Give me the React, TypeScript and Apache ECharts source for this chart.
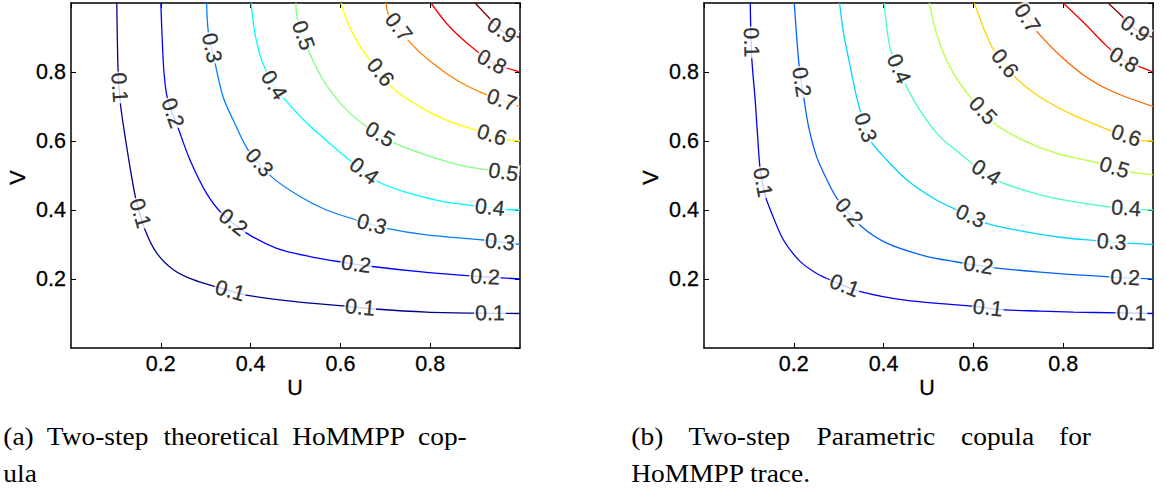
import React, { useEffect, useRef } from 'react';
import * as echarts from 'echarts';

// ---------- data ----------
const levels = ['0.1', '0.2', '0.3', '0.4', '0.5', '0.6', '0.7', '0.8', '0.9'];

// (a) theoretical copula contours, [U, V]
const a01 = [[0.102, 1], [0.105, 0.8], [0.11, 0.708], [0.122, 0.6], [0.135, 0.497], [0.145, 0.429], [0.165, 0.342], [0.191, 0.275], [0.228, 0.227], [0.272, 0.198], [0.324, 0.177], [0.384, 0.155], [0.495, 0.135], [0.614, 0.121], [0.677, 0.113], [0.792, 0.104], [0.904, 0.101], [1, 0.1]];
const a02 = [[0.2, 1], [0.203, 0.9], [0.207, 0.8], [0.215, 0.722], [0.239, 0.636], [0.265, 0.545], [0.302, 0.448], [0.336, 0.39], [0.391, 0.333], [0.458, 0.289], [0.532, 0.265], [0.603, 0.249], [0.666, 0.237], [0.792, 0.219], [0.889, 0.209], [1, 0.2]];
const a03 = [[0.302, 1], [0.306, 0.915], [0.321, 0.824], [0.339, 0.727], [0.365, 0.65], [0.395, 0.573], [0.447, 0.496], [0.51, 0.439], [0.569, 0.4], [0.636, 0.371], [0.703, 0.347], [0.792, 0.328], [0.918, 0.313], [1, 0.3]];
const a04 = [[0.401, 1], [0.41, 0.91], [0.425, 0.833], [0.45, 0.765], [0.48, 0.715], [0.525, 0.652], [0.57, 0.6], [0.62, 0.545], [0.684, 0.482], [0.755, 0.448], [0.829, 0.424], [0.9, 0.412], [0.967, 0.402], [1, 0.4]];
const a05 = [[0.501, 1], [0.504, 0.954], [0.529, 0.862], [0.562, 0.776], [0.607, 0.699], [0.659, 0.641], [0.722, 0.593], [0.792, 0.559], [0.866, 0.53], [0.929, 0.516], [1, 0.502]];
const a06 = [[0.601, 1], [0.621, 0.93], [0.655, 0.853], [0.718, 0.752], [0.777, 0.699], [0.837, 0.66], [0.903, 0.631], [0.97, 0.604], [1, 0.6]];
const a07 = [[0.702, 1], [0.707, 0.968], [0.755, 0.886], [0.807, 0.824], [0.866, 0.771], [0.929, 0.732], [1, 0.7]];
const a08 = [[0.802, 1], [0.837, 0.94], [0.881, 0.885], [0.937, 0.829], [1, 0.8]];
const a09 = [[0.9, 1], [0.929, 0.96], [0.959, 0.92], [1, 0.9]];

// (b) parametric copula contours, [U, V]
const b01 = [[0.103, 1], [0.106, 0.848], [0.114, 0.718], [0.121, 0.583], [0.125, 0.52], [0.136, 0.443], [0.151, 0.39], [0.177, 0.313], [0.214, 0.251], [0.251, 0.216], [0.285, 0.195], [0.344, 0.165], [0.452, 0.138], [0.6, 0.121], [0.663, 0.111], [0.749, 0.107], [0.823, 0.104], [0.923, 0.102], [1, 0.1]];
const b02 = [[0.201, 1], [0.207, 0.891], [0.213, 0.804], [0.222, 0.727], [0.233, 0.641], [0.251, 0.554], [0.274, 0.487], [0.296, 0.434], [0.351, 0.352], [0.407, 0.304], [0.489, 0.268], [0.56, 0.25], [0.645, 0.233], [0.749, 0.22], [0.904, 0.206], [1, 0.2]];
const b03 = [[0.302, 1], [0.311, 0.911], [0.326, 0.814], [0.34, 0.727], [0.356, 0.65], [0.37, 0.602], [0.407, 0.545], [0.452, 0.487], [0.511, 0.434], [0.563, 0.4], [0.626, 0.363], [0.711, 0.338], [0.793, 0.321], [0.875, 0.311], [0.941, 0.304], [1, 0.3]];
const b04 = [[0.401, 1], [0.407, 0.93], [0.416, 0.862], [0.448, 0.766], [0.481, 0.689], [0.526, 0.612], [0.57, 0.564], [0.597, 0.535], [0.659, 0.482], [0.749, 0.444], [0.823, 0.424], [0.908, 0.408], [0.971, 0.402], [1, 0.4]];
const b05 = [[0.502, 1], [0.518, 0.911], [0.548, 0.814], [0.593, 0.727], [0.648, 0.65], [0.711, 0.602], [0.786, 0.564], [0.882, 0.535], [0.945, 0.511], [1, 0.502]];
const b06 = [[0.602, 1], [0.622, 0.93], [0.644, 0.867], [0.696, 0.781], [0.749, 0.727], [0.823, 0.675], [0.904, 0.631], [0.971, 0.602], [1, 0.6]];
const b07 = [[0.702, 1], [0.72, 0.955], [0.745, 0.912], [0.793, 0.848], [0.852, 0.785], [0.912, 0.742], [1, 0.7]];
const b08 = [[0.8, 1], [0.845, 0.944], [0.897, 0.875], [0.935, 0.835], [0.971, 0.815], [1, 0.8]];
const b09 = [[0.9, 1], [0.926, 0.968], [0.96, 0.925], [1, 0.9]];

// contour label anchors, per level
const aLab01 = [[0.107, 0.755], [0.152, 0.39], [0.354, 0.165], [0.644, 0.117], [0.933, 0.1]];
const aLab02 = [[0.226, 0.681], [0.361, 0.364], [0.635, 0.242], [0.922, 0.206]];
const aLab03 = [[0.313, 0.87], [0.419, 0.537], [0.67, 0.359], [0.955, 0.305]];
const aLab04 = [[0.452, 0.762], [0.652, 0.512], [0.933, 0.407]];
const aLab05 = [[0.517, 0.906], [0.688, 0.619], [0.963, 0.509]];
const aLab06 = [[0.687, 0.797], [0.937, 0.617]];
const aLab07 = [[0.729, 0.93], [0.959, 0.718]];
const aLab08 = [[0.937, 0.829]];
const aLab09 = [[0.959, 0.92]];

const bLab01 = [[0.105, 0.886], [0.13, 0.48], [0.312, 0.178], [0.632, 0.116], [0.952, 0.101]];
const bLab02 = [[0.217, 0.771], [0.322, 0.393], [0.611, 0.24], [0.938, 0.203]];
const bLab03 = [[0.359, 0.639], [0.593, 0.38], [0.908, 0.307]];
const bLab04 = [[0.434, 0.809], [0.628, 0.508], [0.94, 0.405]];
const bLab05 = [[0.621, 0.688], [0.913, 0.52]];
const bLab06 = [[0.668, 0.823], [0.94, 0.615]];
const bLab07 = [[0.719, 0.955]];
const bLab08 = [[0.935, 0.835]];
const bLab09 = [[0.96, 0.925]];

const aCurves = [a01, a02, a03, a04, a05, a06, a07, a08, a09];
const bCurves = [b01, b02, b03, b04, b05, b06, b07, b08, b09];
const aLabels = [aLab01, aLab02, aLab03, aLab04, aLab05, aLab06, aLab07, aLab08, aLab09];
const bLabels = [bLab01, bLab02, bLab03, bLab04, bLab05, bLab06, bLab07, bLab08, bLab09];

const aColors = ['#00008f', '#0000ff', '#0080ff', '#00ffff', '#80ff80', '#ffff00', '#ff8000', '#ff0000', '#800000'];
const bColors = ['#0000f1', '#0063ff', '#00d4ff', '#47ffb8', '#b8ff47', '#ffd400', '#ff6300', '#f10000', '#800000'];

// caption words
const capA1 = ['(a)', 'Two-step', 'theoretical', 'HoMMPP', 'cop-'];
const capA2 = ['ula'];
const capB1 = ['(b)', 'Two-step', 'Parametric', 'copula', 'for'];
const capB2 = ['HoMMPP trace.'];

// ---------- layout ----------
const SANS = 'Liberation Sans';
const SERIF = 'Liberation Serif';
const TICK_FS = 21.5;
const CLABEL_FS = 21.5;
const CAP_FS = 24.5;
const CAP_SX = 1.12;
const GRIDS = [
  { left: 71, top: 3, width: 449, height: 345 },
  { left: 704, top: 3, width: 449, height: 345 },
];
const capA1X = [3.3, 46.8, 163.4, 292.2, 418];
const capB1X = [631.3, 688.5, 816.5, 961, 1059];
const CAP_Y1 = 437;
const CAP_Y2 = 474;

function axesFor(gi: number) {
  const common = {
    gridIndex: gi,
    type: 'value' as const,
    min: 0,
    max: 1,
    interval: 0.2,
    splitLine: { show: false },
    axisLine: { show: true, onZero: false, lineStyle: { color: '#000', width: 1.5 } },
    axisTick: { show: true, inside: true, length: 5, lineStyle: { color: '#000', width: 1 } },
  };
  const lab = {
    show: true,
    showMinLabel: false,
    showMaxLabel: false,
    color: '#000',
    fontSize: TICK_FS,
    fontFamily: SANS,
    textBorderColor: '#000',
    textBorderWidth: 0.3,
    formatter: (v: number) => v.toFixed(1),
  };
  const x = [
    { ...common, position: 'bottom', axisLabel: { ...lab, margin: 5 } },
    { ...common, position: 'top', axisLabel: { show: false } },
  ];
  const y = [
    { ...common, position: 'left', axisLabel: { ...lab, margin: 5 } },
    { ...common, position: 'right', axisLabel: { show: false } },
  ];
  return { x, y };
}

function buildLabelData(chart: any, gi: number, curves: number[][][], labels: number[][][]) {
  const items: any[] = [];
  labels.forEach((pts, li) => {
    const px = curves[li].map((p) => chart.convertToPixel({ gridIndex: gi }, p) as number[]);
    const cum: number[] = [0];
    for (let k = 1; k < px.length; k++) {
      cum.push(cum[k - 1] + Math.hypot(px[k][0] - px[k - 1][0], px[k][1] - px[k - 1][1]));
    }
    const at = (s: number) => {
      s = Math.max(0, Math.min(cum[cum.length - 1], s));
      for (let k = 0; k < px.length - 1; k++) {
        if (s <= cum[k + 1] || k === px.length - 2) {
          const L = cum[k + 1] - cum[k] || 1;
          const t = (s - cum[k]) / L;
          return [px[k][0] + t * (px[k + 1][0] - px[k][0]), px[k][1] + t * (px[k + 1][1] - px[k][1])];
        }
      }
      return px[px.length - 1];
    };
    pts.forEach((p) => {
      const q = chart.convertToPixel({ gridIndex: gi }, p) as number[];
      let best = Infinity;
      let sBest = 0;
      let cBest = q;
      for (let k = 0; k < px.length - 1; k++) {
        const a = px[k];
        const b = px[k + 1];
        const dx = b[0] - a[0];
        const dy = b[1] - a[1];
        const len2 = dx * dx + dy * dy;
        let t = len2 ? ((q[0] - a[0]) * dx + (q[1] - a[1]) * dy) / len2 : 0;
        t = Math.max(0, Math.min(1, t));
        const cx = a[0] + t * dx;
        const cy = a[1] + t * dy;
        const d = (q[0] - cx) ** 2 + (q[1] - cy) ** 2;
        if (d < best) {
          best = d;
          sBest = cum[k] + t * Math.sqrt(len2);
          cBest = [cx, cy];
        }
      }
      const p1 = at(sBest - 14);
      const p2 = at(sBest + 14);
      let ang = (Math.atan2(p2[1] - p1[1], p2[0] - p1[0]) * 180) / Math.PI;
      if (ang > 90) ang -= 180;
      if (ang < -90) ang += 180;
      const val = chart.convertFromPixel({ gridIndex: gi }, cBest);
      items.push({ name: levels[li], value: val, label: { rotate: -ang } });
    });
  });
  return items;
}

export default function App() {
  const ref = useRef<HTMLDivElement>(null);
  useEffect(() => {
    if (!ref.current) return;
    const chart = echarts.init(ref.current, undefined, { renderer: 'svg' });
    const ax0 = axesFor(0);
    const ax1 = axesFor(1);
    const xAxis = [...ax0.x, ...ax1.x];
    const yAxis = [...ax0.y, ...ax1.y];

    const lineSeries = (curves: number[][][], colors: string[], axIdx: number) =>
      curves.map((d, i) => ({
        type: 'line',
        name: `${axIdx}-${levels[i]}`,
        xAxisIndex: axIdx,
        yAxisIndex: axIdx,
        data: d,
        showSymbol: false,
        symbol: 'none',
        smooth: 0.3,
        silent: true,
        z: 2,
        lineStyle: { color: colors[i], width: 1.3 },
      }));

    const series: any[] = [...lineSeries(aCurves, aColors, 0), ...lineSeries(bCurves, bColors, 2)];

    const capText = (t: string, x: number, y: number) => ({
      type: 'text',
      x,
      y,
      scaleX: CAP_SX,
      style: { text: t, fill: '#000', fontSize: CAP_FS, fontFamily: SERIF, align: 'left', verticalAlign: 'middle' },
    });

    const axisName = (t: string, x: number, y: number, rot: number) => ({
      type: 'text',
      x,
      y,
      rotation: rot,
      style: {
        text: t, fill: '#000', fontSize: TICK_FS, fontFamily: SANS, align: 'center', verticalAlign: 'middle',
        stroke: '#000', lineWidth: 0.3,
      },
    });

    const graphic: any[] = [
      axisName('U', 295, 387.5, 0),
      axisName('U', 927, 387.5, 0),
      axisName('V', 17.5, 177.5, Math.PI / 2),
      axisName('V', 651, 177.5, Math.PI / 2),
      ...capA1.map((w, i) => capText(w, capA1X[i], CAP_Y1)),
      ...capA2.map((w) => capText(w, capA1X[0], CAP_Y2)),
      ...capB1.map((w, i) => capText(w, capB1X[i], CAP_Y1)),
      ...capB2.map((w) => capText(w, capB1X[0], CAP_Y2)),
    ];

    chart.setOption({
      animation: false,
      backgroundColor: '#fff',
      grid: GRIDS.map((g) => ({ ...g, containLabel: false })),
      xAxis,
      yAxis,
      series,
      graphic,
    });

    const labelSeries = (data: any[], axIdx: number) => ({
      type: 'scatter',
      xAxisIndex: axIdx,
      yAxisIndex: axIdx,
      data,
      symbol: 'circle',
      symbolSize: 1,
      silent: true,
      z: 5,
      itemStyle: { color: 'rgba(0,0,0,0)' },
      label: {
        show: true,
        position: 'inside',
        formatter: '{b}',
        color: '#000',
        fontSize: CLABEL_FS,
        fontFamily: SANS,
        textBorderColor: '#000',
        textBorderWidth: 0.3,
        backgroundColor: '#fff',
        padding: [0, 1],
        lineHeight: 19,
      },
    });

    const aData = buildLabelData(chart, 0, aCurves, aLabels);
    const bData = buildLabelData(chart, 1, bCurves, bLabels);
    chart.setOption({
      series: [...series, labelSeries(aData, 0), labelSeries(bData, 2)],
    });

    return () => chart.dispose();
  }, []);
  return <div ref={ref} style={{ position: 'absolute', left: 0, top: 0, width: 1166, height: 491 }} />;
}
